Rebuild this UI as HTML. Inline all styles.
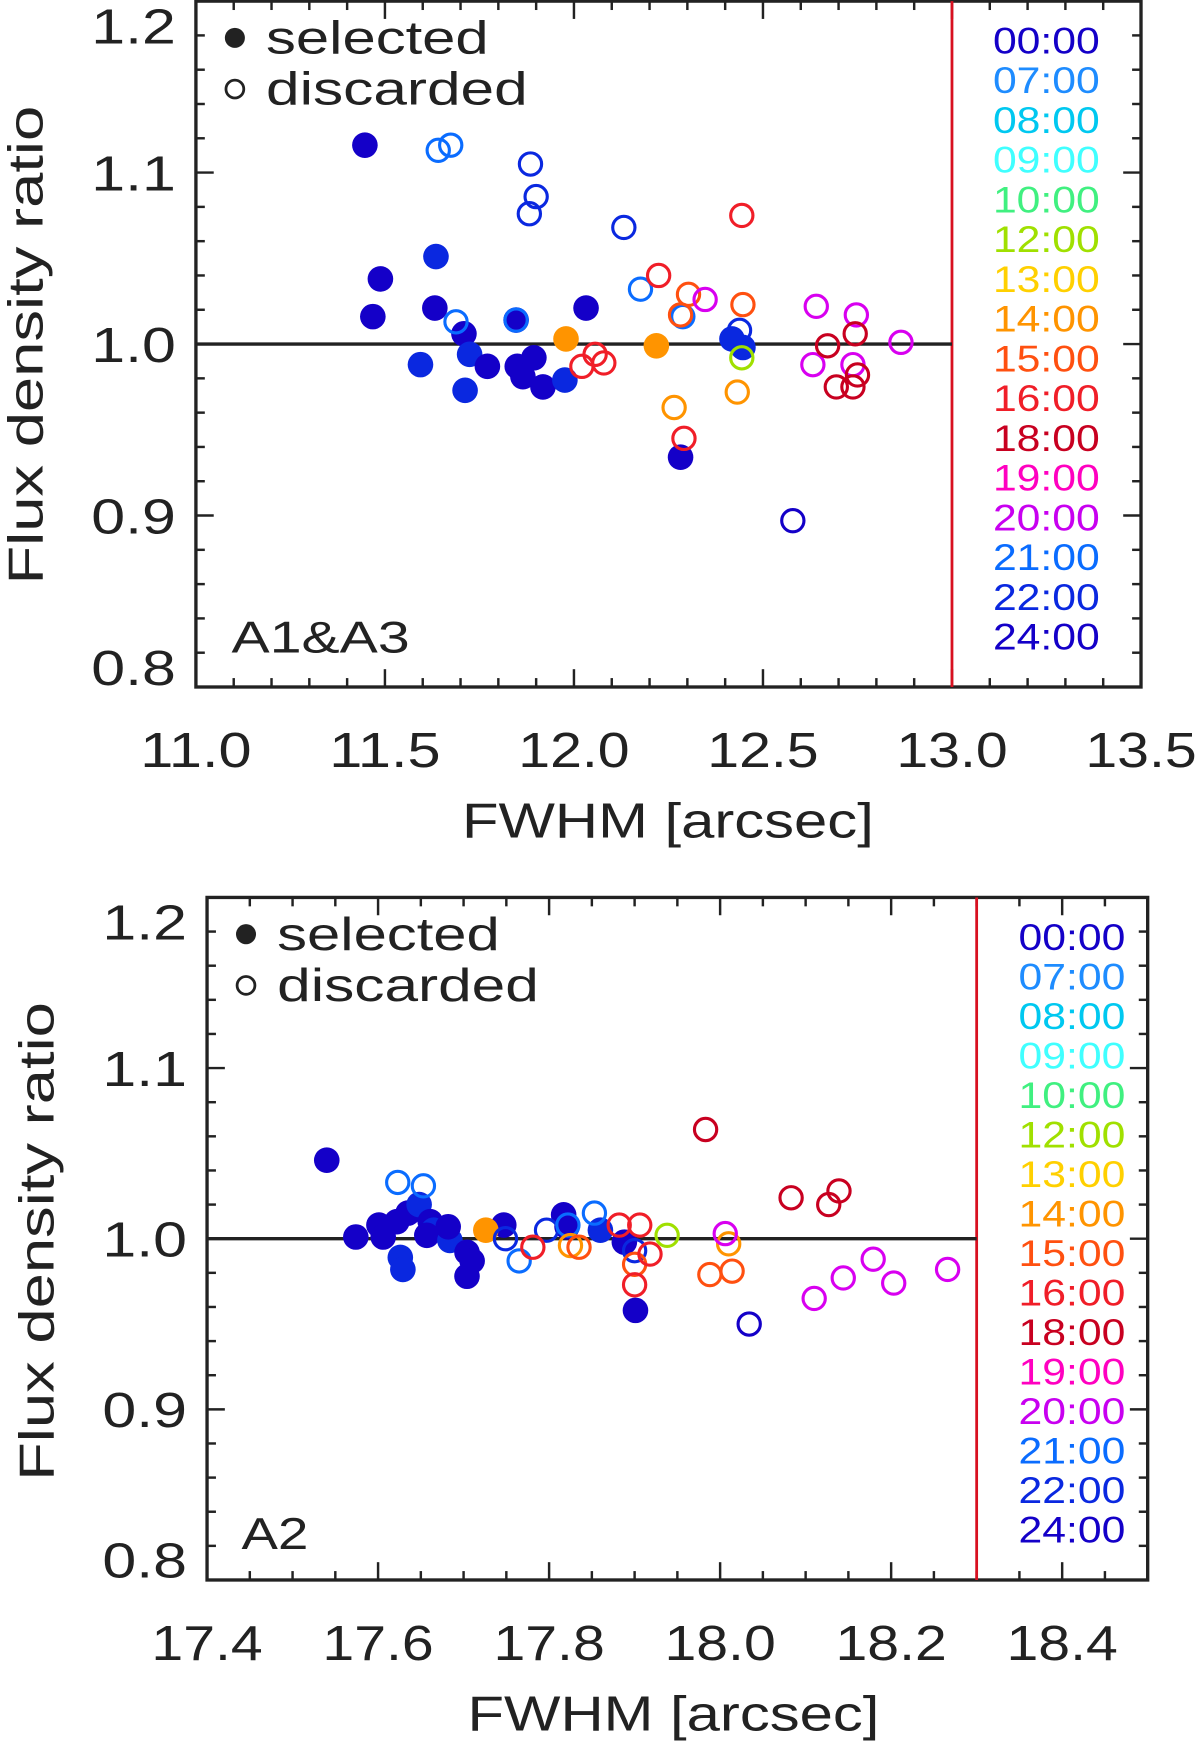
<!DOCTYPE html>
<html><head><meta charset="utf-8"><style>
html,body{margin:0;padding:0;background:#fff;}
svg{display:block;font-family:"Liberation Sans",sans-serif;}
</style></head><body>
<svg id="fig" width="1200" height="1747" viewBox="0 0 1078 1569" preserveAspectRatio="none" xmlns="http://www.w3.org/2000/svg"></svg>
<script>
const timeLabels=["00:00","07:00","08:00","09:00","10:00","12:00","13:00","14:00","15:00","16:00","18:00","19:00","20:00","21:00","22:00","24:00"];
const timeColors=["#1400c8","#1e8cff","#00c8f0","#40ffff","#40f080","#a0e000","#ffd000","#ff9400","#ff5010","#f01e28","#c80020","#ff00c0","#c800f0","#0a6cff","#0a28e0","#1400c8"];
const colorKey={D:"#1400c8",B:"#0a28e0",L:"#0a6cff",R:"#f01e28",DR:"#c80020",O:"#ff9400",OR:"#ff5010",G:"#a0e000",M:"#d800f0"};

// ===== Panel 1 (A1&A3) data =====
const p1x=[11.447,11.488,11.468,11.635,11.632,11.594,11.712,11.709,11.724,11.771,11.85,11.865,11.894,11.918,11.976,12.032,11.847,11.979,12.218,12.282,12.418,12.447,
11.641,11.674,11.885,11.9,11.882,12.132,12.176,12.288,11.688,11.847,12.438,12.224,12.303,12.347,12.282,12.444,12.447,12.021,12.056,12.079,12.265,12.291,12.432,12.444,12.579,12.641,12.632,12.747,12.738,12.865,12.671,12.744,12.75,12.694,12.738];
const p1y=[1.116,1.038,1.016,1.051,1.021,0.988,0.973,1.006,0.994,0.987,0.987,0.981,0.992,0.975,0.979,1.021,1.014,1.003,0.999,0.934,1.003,0.998,
1.113,1.116,1.105,1.086,1.076,1.068,1.032,1.016,1.013,1.014,1.008,1.040,1.029,1.026,1.017,1.075,1.023,0.987,0.994,0.989,0.963,0.945,0.972,0.992,0.897,1.022,0.988,1.017,0.988,1.001,0.999,1.006,0.982,0.975,0.975];
const p1c=["D","D","D","B","D","B","B","D","B","D","D","D","D","D","B","D","D","O","O","D","B","B",
"L","L","B","B","B","B","L","L","L","L","B","R","OR","M","OR","R","OR","R","R","R","O","R","O","G","D","M","M","M","M","M","DR","DR","DR","DR","DR"];
const p1f=[1,1,1,1,1,1,1,1,1,1,1,1,1,1,1,1,1,1,1,1,1,1,
0,0,0,0,0,0,0,0,0,0,0,0,0,0,0,0,0,0,0,0,0,0,0,0,0,0,0,0,0,0,0,0,0,0,0];

// ===== Panel 2 (A2) data =====
const p2x=[17.540,17.574,17.601,17.606,17.622,17.635,17.648,17.661,17.665,17.626,17.629,17.657,17.684,17.682,17.704,17.710,17.704,17.747,17.726,17.817,17.821,17.860,17.888,17.901,
17.623,17.653,17.749,17.765,17.797,17.822,17.853,17.900,17.781,17.825,17.835,17.882,17.906,17.900,17.900,17.918,17.938,17.983,17.988,18.014,18.010,18.006,18.034,18.083,18.127,18.139,18.110,18.144,18.179,18.203,18.266];
const p2y=[1.046,1.001,1.008,1.001,1.010,1.015,1.020,1.010,1.005,0.989,0.982,1.002,0.999,1.007,0.992,0.987,0.978,1.008,1.005,1.014,1.007,1.005,0.998,0.958,
1.033,1.031,1.000,0.987,1.005,1.008,1.015,0.993,0.995,0.996,0.995,1.008,1.008,0.985,0.973,0.991,1.002,1.064,0.979,0.981,0.997,1.003,0.950,1.024,1.020,1.028,0.965,0.977,0.988,0.974,0.982];
const p2c=["D","D","D","D","D","D","B","D","B","B","B","D","B","D","D","D","D","D","O","D","D","B","D","D",
"L","L","B","L","B","L","L","B","R","O","OR","R","R","OR","R","R","G","DR","OR","OR","O","M","D","DR","DR","DR","M","M","M","M","M"];
const p2f=[1,1,1,1,1,1,1,1,1,1,1,1,1,1,1,1,1,1,1,1,1,1,1,1,
0,0,0,0,0,0,0,0,0,0,0,0,0,0,0,0,0,0,0,0,0,0,0,0,0,0,0,0,0,0,0];

const p1xticks=["11.0","11.5","12.0","12.5","13.0","13.5"];
const p1xtickv=[11.0,11.5,12.0,12.5,13.0,13.5];
const p2xticks=["17.4","17.6","17.8","18.0","18.2","18.4"];
const p2xtickv=[17.4,17.6,17.8,18.0,18.2,18.4];
const yticks=["0.8","0.9","1.0","1.1","1.2"];
const ytickv=[0.8,0.9,1.0,1.1,1.2];

const NS="http://www.w3.org/2000/svg";
const svg=document.getElementById('fig');
function mk(tag,attrs,parent){const e=document.createElementNS(NS,tag);for(const k in attrs)e.setAttribute(k,attrs[k]);(parent||svg).appendChild(e);return e;}

function panel(cfg){
  const g=mk('g',{});
  
  
  const L=cfg.L,R=cfg.R,T=cfg.T,B=cfg.B;
  const sx=v=>L+(v-cfg.x0)/(cfg.x1-cfg.x0)*(R-L);
  const sy=v=>B-(v-0.8)/(0.4)*(B-T);
  for(let v=cfg.x0;v<=cfg.x1+1e-9;v+=cfg.xminor){
    const major=Math.abs(v/cfg.xmajor-Math.round(v/cfg.xmajor))<1e-6;
    const len=major?16:8;
    mk('line',{x1:sx(v),x2:sx(v),y1:B,y2:B-len,stroke:'#222','stroke-width':2.2},g);
    mk('line',{x1:sx(v),x2:sx(v),y1:T,y2:T+len,stroke:'#222','stroke-width':2.2},g);
  }
  for(let v=0.8;v<=1.2+1e-9;v+=0.02){
    const major=Math.abs(v*10-Math.round(v*10))<1e-6;
    const len=major?16:8;
    mk('line',{x1:L,x2:L+len,y1:sy(v),y2:sy(v),stroke:'#222','stroke-width':2.2},g);
    mk('line',{x1:R,x2:R-len,y1:sy(v),y2:sy(v),stroke:'#222','stroke-width':2.2},g);
  }
  const fr=mk('rect',{x:L,y:T,width:R-L,height:B-T,fill:'none',stroke:'#222','stroke-width':3},g);
  
  
  cfg.xticks.forEach((t,i)=>{
    const e=mk('text',{x:sx(cfg.xtickv[i]),y:B+72,'text-anchor':'middle','font-size':44,fill:'#222',textLength:100,lengthAdjust:'spacingAndGlyphs'},g);
    e.textContent=t;
    
    
  });
  yticks.forEach((t,i)=>{
    const by=Math.min(Math.max(sy(ytickv[i])+16,T+38),B-2);
    const e=mk('text',{x:L-18,y:by,'text-anchor':'end','font-size':44,fill:'#222',textLength:76,lengthAdjust:'spacingAndGlyphs'},g);
    e.textContent=t;
    
    
  });
  const xt=mk('text',{x:cfg.xtX,y:B+135,'text-anchor':'middle','font-size':44,fill:'#222',textLength:370,lengthAdjust:'spacingAndGlyphs'},g);
  xt.textContent='FWHM [arcsec]';
  
  
  const yt=mk('text',{x:0,y:0,'text-anchor':'middle','font-size':44,fill:'#222',textLength:430,lengthAdjust:'spacingAndGlyphs',transform:`translate(${cfg.ytX},${cfg.ytY}) rotate(-90)`},g);
  yt.textContent='Flux density ratio';
  
  
  const rl=mk('line',{x1:sx(cfg.red),x2:sx(cfg.red),y1:T,y2:B,stroke:'#d81020','stroke-width':2.5},g);
  
  
  const ul=mk('line',{x1:L,x2:sx(cfg.red),y1:sy(1),y2:sy(1),stroke:'#222','stroke-width':3},g);
  
  
  cfg.xs.forEach((xv,i)=>{
    const col=colorKey[cfg.cs[i]];
    const c=mk('circle',{cx:sx(xv),cy:sy(cfg.ys[i]),r:cfg.f[i]?11.5:10,fill:cfg.f[i]?col:'none',stroke:col,'stroke-width':cfg.f[i]?0:2.8},g);
    
    
  });
  const lc1=mk('circle',{cx:L+35,cy:T+cfg.legY,r:9,fill:'#222'},g);
  
  
  const lt1=mk('text',{x:L+63,y:T+cfg.legY+14,'font-size':42,fill:'#222',textLength:200,lengthAdjust:'spacingAndGlyphs'},g);
  lt1.textContent='selected';
  
  
  const lc2=mk('circle',{cx:L+35,cy:T+cfg.legY+46,r:8,fill:'none',stroke:'#222','stroke-width':2.5},g);
  
  
  const lt2=mk('text',{x:L+63,y:T+cfg.legY+60,'font-size':42,fill:'#222',textLength:235,lengthAdjust:'spacingAndGlyphs'},g);
  lt2.textContent='discarded';
  
  
  timeLabels.forEach((t,i)=>{
    const e=mk('text',{x:cfg.tX,y:cfg.tY+i*cfg.tStep,'text-anchor':'middle','font-size':33,fill:timeColors[i],textLength:96,lengthAdjust:'spacingAndGlyphs'},g);
    e.textContent=t;
    
    
  });
  const pl=mk('text',{x:cfg.plX,y:cfg.plY,'font-size':40,fill:'#222',textLength:cfg.plW,lengthAdjust:'spacingAndGlyphs'},g);
  pl.textContent=cfg.label;
  
  
}

panel({name:'panel-a1a3',L:176,R:1025,T:1,B:617,x0:11.0,x1:13.5,xminor:0.1,xmajor:0.5,
  xticks:p1xticks,xtickv:p1xtickv,xtX:600,ytX:38,ytY:310,red:13.0,
  xs:p1x,ys:p1y,cs:p1c,f:p1f,legY:33,tX:940,tY:48,tStep:35.7,label:'A1&A3',plX:208,plY:586,plW:160});
panel({name:'panel-a2',L:186,R:1031,T:806,B:1419,x0:17.4,x1:18.5,xminor:0.05,xmajor:0.2,
  xticks:p2xticks,xtickv:p2xtickv,xtX:605,ytX:48,ytY:1115,red:18.3,
  xs:p2x,ys:p2y,cs:p2c,f:p2f,legY:33,tX:963,tY:853,tStep:35.5,label:'A2',plX:217,plY:1391,plW:60});
</script>
</body></html>
